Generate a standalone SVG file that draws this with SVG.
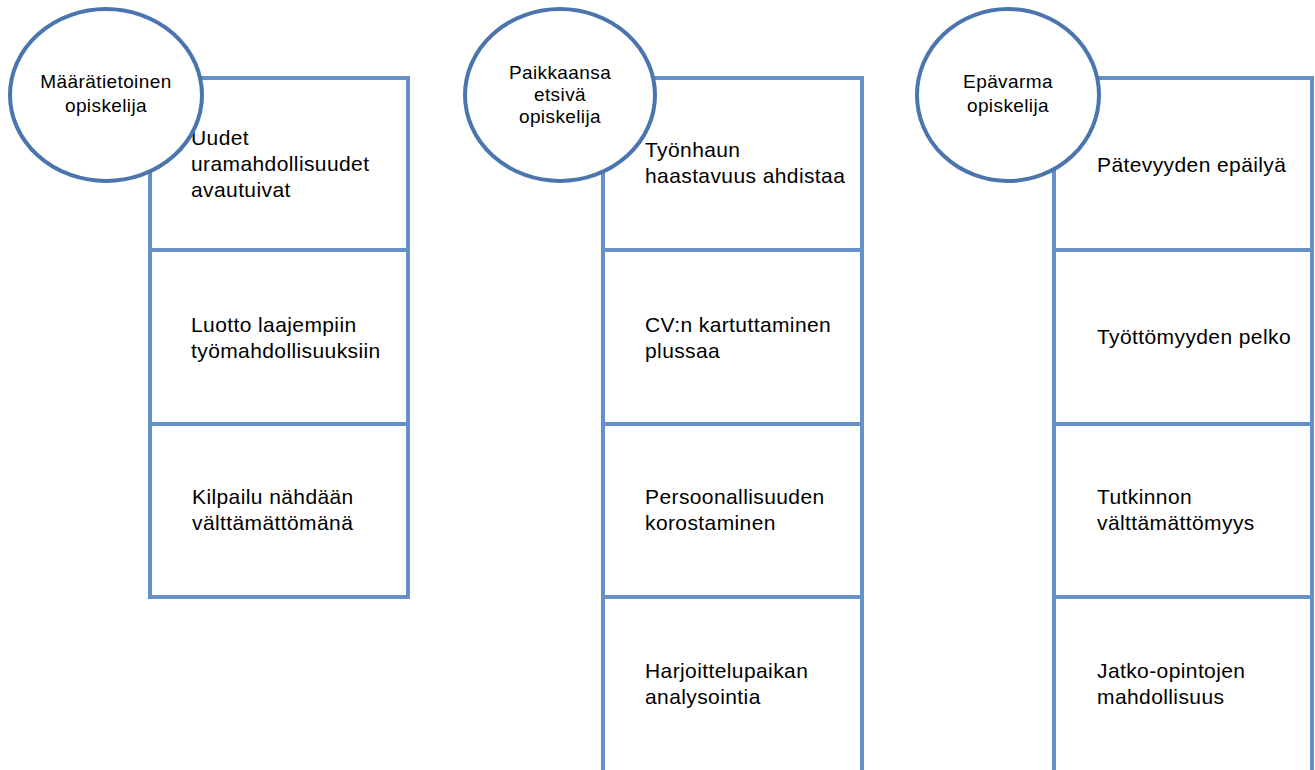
<svg xmlns="http://www.w3.org/2000/svg" width="1315" height="770" viewBox="0 0 1315 770">
<style>
.box{fill:#ffffff;stroke:#6690C8;stroke-width:4}
.circ{fill:#ffffff;stroke:#4A75AD;stroke-width:4}
.bt{font-family:"Liberation Sans",Arial,sans-serif;font-size:21px;letter-spacing:0.4px;fill:#000}
.ct{font-family:"Liberation Sans",Arial,sans-serif;font-size:19px;letter-spacing:0.4px;fill:#000;text-anchor:middle}
</style>
<rect width="1315" height="770" fill="#ffffff"/>
<g id="connectors"></g>
<g id="col1-box1"><rect class="box" x="150" y="78" width="258" height="172"/><text class="bt" x="191" y="145">Uudet</text><text class="bt" x="191" y="171">uramahdollisuudet</text><text class="bt" x="191" y="197">avautuivat</text></g>
<g id="col1-box2"><rect class="box" x="150" y="250" width="258" height="174"/><text class="bt" x="191" y="332">Luotto laajempiin</text><text class="bt" x="191" y="358">työmahdollisuuksiin</text></g>
<g id="col1-box3"><rect class="box" x="150" y="424" width="258" height="173"/><text class="bt" x="192" y="504">Kilpailu nähdään</text><text class="bt" x="192" y="530">välttämättömänä</text></g>
<g id="col1-circle"><ellipse class="circ" cx="106" cy="95" rx="96" ry="86"/><text class="ct" x="106" y="88">Määrätietoinen</text><text class="ct" x="106" y="112">opiskelija</text></g>

<g id="col2-box1"><rect class="box" x="603" y="78" width="259" height="172"/><text class="bt" x="645" y="157">Työnhaun</text><text class="bt" x="645" y="183">haastavuus ahdistaa</text></g>
<g id="col2-box2"><rect class="box" x="603" y="250" width="259" height="174"/><text class="bt" x="645" y="332">CV:n kartuttaminen</text><text class="bt" x="645" y="358">plussaa</text></g>
<g id="col2-box3"><rect class="box" x="603" y="424" width="259" height="173"/><text class="bt" x="645" y="504">Persoonallisuuden</text><text class="bt" x="645" y="530">korostaminen</text></g>
<g id="col2-box4"><rect class="box" x="603" y="597" width="259" height="180"/><text class="bt" x="645" y="678">Harjoittelupaikan</text><text class="bt" x="645" y="704">analysointia</text></g>
<g id="col2-circle"><ellipse class="circ" cx="560" cy="95" rx="95" ry="86"/><text class="ct" x="560" y="79">Paikkaansa</text><text class="ct" x="560" y="101">etsivä</text><text class="ct" x="560" y="123">opiskelija</text></g>

<g id="col3-box1"><rect class="box" x="1054" y="78" width="258" height="172"/><text class="bt" x="1097" y="172">Pätevyyden epäilyä</text></g>
<g id="col3-box2"><rect class="box" x="1054" y="250" width="258" height="174"/><text class="bt" x="1097" y="344">Työttömyyden pelko</text></g>
<g id="col3-box3"><rect class="box" x="1054" y="424" width="258" height="173"/><text class="bt" x="1097" y="504">Tutkinnon</text><text class="bt" x="1097" y="530">välttämättömyys</text></g>
<g id="col3-box4"><rect class="box" x="1054" y="597" width="258" height="180"/><text class="bt" x="1097" y="678">Jatko-opintojen</text><text class="bt" x="1097" y="704">mahdollisuus</text></g>
<g id="col3-circle"><ellipse class="circ" cx="1008" cy="95" rx="91" ry="86"/><text class="ct" x="1008" y="88">Epävarma</text><text class="ct" x="1008" y="112">opiskelija</text></g>
</svg>
